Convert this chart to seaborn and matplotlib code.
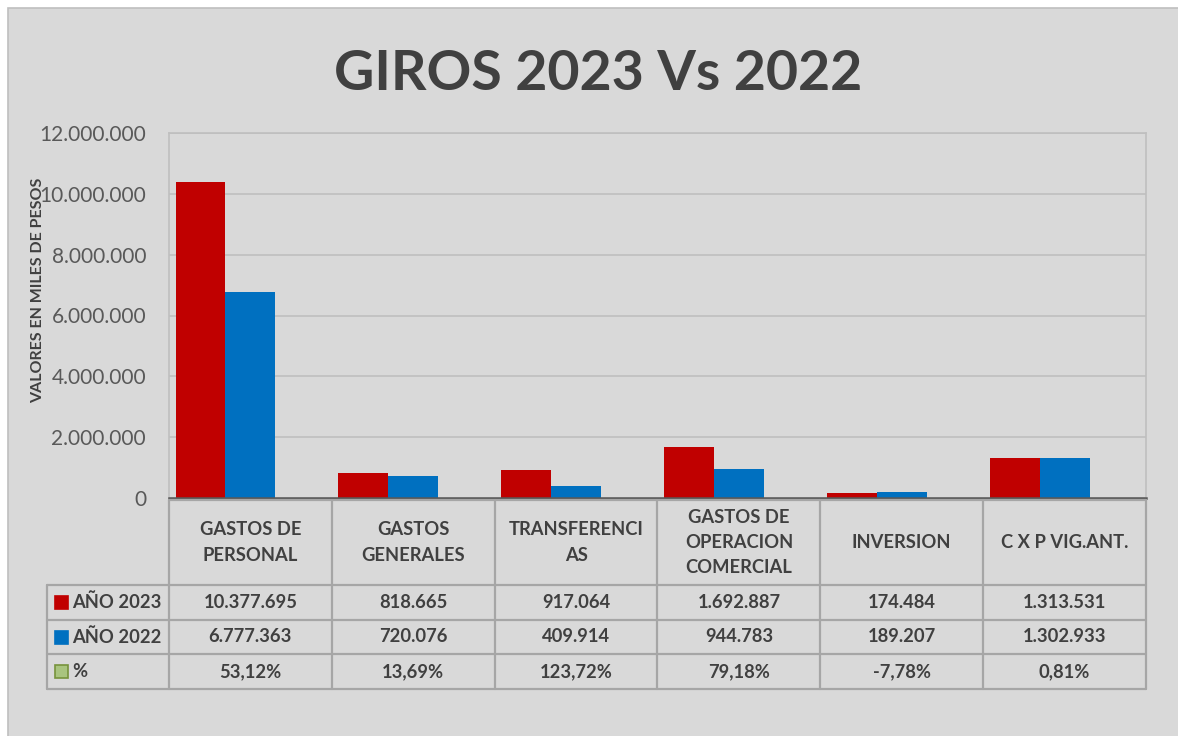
import numpy as np
import pandas as pd
import matplotlib
matplotlib.use("Agg")
import matplotlib.pyplot as plt
from matplotlib.patches import Rectangle
from matplotlib.lines import Line2D
from matplotlib import transforms
import seaborn as sns

# ---- data ----
categories = ["GASTOS DE\nPERSONAL", "GASTOS\nGENERALES", "TRANSFERENCI\nAS",
              "GASTOS DE\nOPERACION\nCOMERCIAL", "INVERSION", "C X P VIG.ANT."]
series_names = ["AÑO 2023", "AÑO 2022", "%"]
values_2023 = [10377695, 818665, 917064, 1692887, 174484, 1313531]
values_2022 = [6777363, 720076, 409914, 944783, 189207, 1302933]
y_ticks = [0, 2000000, 4000000, 6000000, 8000000, 10000000, 12000000]

# year-over-year change, kept as a fraction (plotted as a third, near-zero series)
variation = [a / b - 1 for a, b in zip(values_2023, values_2022)]

colors = {"AÑO 2023": "#c00000", "AÑO 2022": "#0070c0", "%": "#a9c47f"}
pct_edge = "#77933c"
text_dark = "#404040"
grid_col = "#bfbfbf"
table_col = "#a6a6a6"


def fmt_thousands(v):
    return f"{v:,.0f}".replace(",", ".")


def fmt_pct(f):
    return f"{f * 100:.2f}%".replace(".", ",")


df = pd.DataFrame({
    "categoria": categories * 3,
    "serie": sum([[s] * len(categories) for s in series_names], []),
    "valor": values_2023 + values_2022 + variation,
})

sns.set_theme(style="white")
plt.rcParams["font.family"] = ["Lato", "DejaVu Sans"]

W, H = 1178, 736
fig = plt.figure(figsize=(W / 100, H / 100), dpi=100, facecolor="white")

# chart area background with its thin frame
fig.patches.append(Rectangle((8 / W, -0.01), 1.02, 1 - 8 / H + 0.01, transform=fig.transFigure,
                             facecolor="#d9d9d9", edgecolor="#bfbfbf", linewidth=1.2, zorder=-5))


def fy(py):
    """figure fraction from a pixel row counted from the top"""
    return 1 - py / H


ax = fig.add_axes([169 / W, fy(498), (1146 - 169) / W, fy(133) - fy(498)])
ax.set_facecolor("#d9d9d9")

sns.barplot(data=df, x="categoria", y="valor", hue="serie", hue_order=series_names,
            palette=colors, width=0.92, dodge=True, saturation=1, ax=ax,
            legend=False, linewidth=0, errorbar=None, zorder=3)

ax.set_xlim(-0.5, len(categories) - 0.5)
ax.set_ylim(0, 12000000)
ax.set_yticks(y_ticks)
ax.set_yticklabels([fmt_thousands(v) for v in y_ticks], fontsize=15, color="#595959")
ax.tick_params(axis="y", length=0, pad=16.5)
ax.set_xticks([])
ax.set_xlabel("")
ax.set_ylabel("")
ax.grid(axis="y", color=grid_col, linewidth=1.2, zorder=0)
ax.set_axisbelow(True)
for side in ["top", "right", "left"]:
    ax.spines[side].set_color(grid_col)
    ax.spines[side].set_linewidth(1.2)
ax.spines["bottom"].set_color("#595959")
ax.spines["bottom"].set_linewidth(1.8)
ax.spines["bottom"].set_zorder(5)

# title and axis label
fig.text(598 / W, fy(90), "GIROS 2023 Vs 2022", ha="center", va="baseline",
         fontsize=40, fontweight="bold", color=text_dark)
fig.text(38 / W, fy(290), "VALORES EN MILES DE PESOS", rotation=90, ha="center", va="center",
         fontsize=11.5, fontweight="bold", color=text_dark)

# ---- data table under the axis ----
tr = transforms.blended_transform_factory(ax.transData, fig.transFigure)
n = len(categories)
edges = np.arange(n + 1) - 0.5
row_tops = [585, 620, 654, 689]
header_top = 500
# legend column left edge in data units
left_px = 47
x0_data = -0.5 - (169 - left_px) / ((1146 - 169) / n)

line_kw = dict(color=table_col, linewidth=1.6, transform=tr, clip_on=False)
for e in edges:
    fig.add_artist(Line2D([e, e], [fy(header_top), fy(row_tops[-1])], **line_kw))
fig.add_artist(Line2D([x0_data, x0_data], [fy(row_tops[0]), fy(row_tops[-1])], **line_kw))
fig.add_artist(Line2D([-0.5, edges[-1]], [fy(header_top), fy(header_top)], **line_kw))
for r in row_tops:
    fig.add_artist(Line2D([x0_data, edges[-1]], [fy(r), fy(r)], **line_kw))

cell_kw = dict(ha="center", va="center", fontsize=13.2, fontweight="bold",
               color=text_dark, transform=tr)
for i, cat in enumerate(categories):
    fig.text(i, fy((header_top + row_tops[0]) / 2), cat, linespacing=1.6, **cell_kw)
    fig.text(i, fy((row_tops[0] + row_tops[1]) / 2), fmt_thousands(values_2023[i]), **cell_kw)
    fig.text(i, fy((row_tops[1] + row_tops[2]) / 2), fmt_thousands(values_2022[i]), **cell_kw)
    fig.text(i, fy((row_tops[2] + row_tops[3]) / 2), fmt_pct(variation[i]), **cell_kw)

# legend keys in the first column
key_edges = [colors[series_names[0]], colors[series_names[1]], pct_edge]
for k, (lab, ec) in enumerate(zip(series_names, key_edges)):
    cy = (row_tops[k] + row_tops[k + 1]) / 2
    fig.patches.append(Rectangle((55 / W, fy(cy + 6.5)), 13 / W, 13 / H, transform=fig.transFigure,
                                 facecolor=colors[lab], edgecolor=ec, linewidth=1.2, zorder=3))
    fig.text(72 / W, fy(cy), lab, ha="left", va="center", fontsize=13.2,
             fontweight="bold", color=text_dark)

fig.savefig("out.png", dpi=100, facecolor=fig.get_facecolor())
